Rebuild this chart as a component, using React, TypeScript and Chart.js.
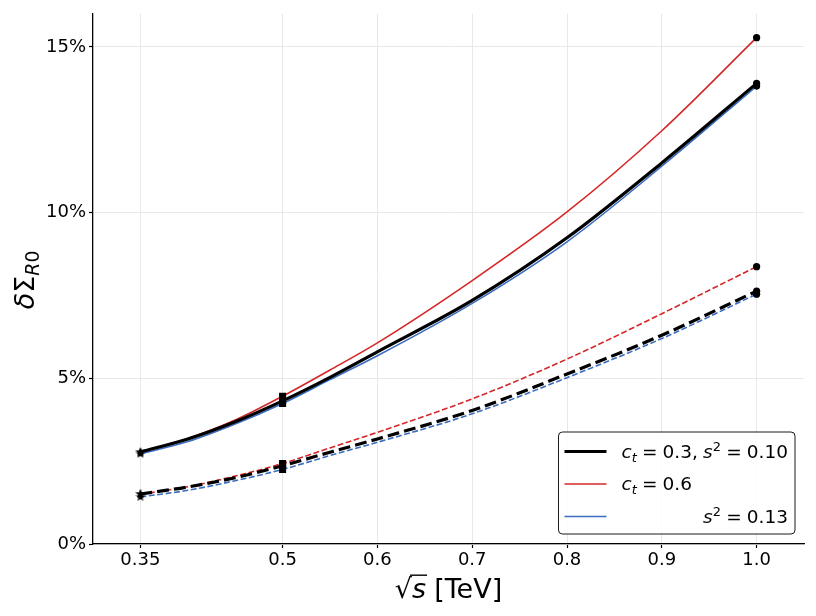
import React, { useEffect, useRef } from "react";
import { Chart, registerables } from "chart.js";

Chart.register(...registerables);

// ---- data ----
const energies = [0.35, 0.4, 0.45, 0.5, 0.55, 0.6, 0.7, 0.8, 0.9, 1.0];
const solidBlack = [0.0278, 0.0317, 0.0369, 0.0432, 0.0503, 0.058, 0.0735, 0.0924, 0.115, 0.139];
const solidRed = [0.0276, 0.0318, 0.0374, 0.0446, 0.0525, 0.0607, 0.0795, 0.1002, 0.1247, 0.1528];
const solidBlue = [0.0272, 0.0309, 0.0362, 0.0424, 0.0496, 0.0568, 0.0726, 0.0912, 0.114, 0.1382];
const dashedBlack = [0.0151, 0.0172, 0.02, 0.0236, 0.0277, 0.0317, 0.0403, 0.0513, 0.063, 0.0763];
const dashedRed = [0.015, 0.0173, 0.0205, 0.0243, 0.029, 0.0337, 0.0438, 0.0558, 0.0695, 0.0837];
const dashedBlue = [0.0142, 0.0162, 0.0191, 0.0225, 0.0267, 0.0307, 0.0393, 0.0502, 0.062, 0.0754];

const markerEnergies = [0.35, 0.5, 1.0];
const markerShapes = ["star", "rect", "circle"];

const xTickValues = [0.35, 0.5, 0.6, 0.7, 0.8, 0.9, 1.0];
const xTickLabels = ["0.35", "0.5", "0.6", "0.7", "0.8", "0.9", "1.0"];
const yTickValues = [0, 0.05, 0.1, 0.15];
const yTickLabels = ["0%", "5%", "10%", "15%"];

const legendLabels = ["c_t = 0.3, s^2 = 0.10", "c_t = 0.6", "s^2 = 0.13"];
const xAxisTitle = ["√", "s", "[TeV]"];
const yAxisTitle = "δΣ_{R0}";

const BLACK = "#000000";
const RED = "#d62728";
const BLUE = "#3a6cc0";

// ---- math-text helpers ----
type Seg = { t: string; it?: boolean; pos?: "sub" | "sup"; sp?: number };

function fontStr(size: number, it: boolean) {
  return `${it ? "italic " : ""}${size}px "DejaVu Sans"`;
}

function parseMath(src: string): Seg[] {
  const segs: Seg[] = [];
  const isIt = (ch: string) => /[a-zA-Zδ]/.test(ch);
  const push = (ch: string, pos?: "sub" | "sup") => {
    const it = isIt(ch);
    const last = segs[segs.length - 1];
    if (last && last.it === it && last.pos === pos && !last.sp) last.t += ch;
    else segs.push({ t: ch, it, pos });
  };
  let i = 0;
  while (i < src.length) {
    const ch = src[i];
    if (ch === "_" || ch === "^") {
      const pos = ch === "_" ? "sub" : "sup";
      i++;
      if (src[i] === "{") {
        i++;
        while (i < src.length && src[i] !== "}") {
          push(src[i], pos);
          i++;
        }
        i++;
      } else {
        push(src[i], pos);
        i++;
      }
    } else if (ch === " ") {
      const last = segs[segs.length - 1];
      if (last) last.sp = (last.sp || 0) + 0.28;
      i++;
    } else {
      push(ch);
      i++;
    }
  }
  return segs;
}

function mathWidth(ctx: CanvasRenderingContext2D, segs: Seg[], size: number) {
  let w = 0;
  for (const s of segs) {
    const sz = s.pos ? size * 0.7 : size;
    ctx.font = fontStr(sz, !!s.it);
    w += ctx.measureText(s.t).width + (s.sp || 0) * size;
  }
  return w;
}

function drawMath(ctx: CanvasRenderingContext2D, segs: Seg[], x: number, y: number, size: number) {
  let cx = x;
  for (const s of segs) {
    const sz = s.pos ? size * 0.7 : size;
    ctx.font = fontStr(sz, !!s.it);
    const dy = s.pos === "sub" ? size * 0.2 : s.pos === "sup" ? -size * 0.38 : 0;
    ctx.fillText(s.t, cx, y + dy);
    cx += ctx.measureText(s.t).width + (s.sp || 0) * size;
  }
  return cx;
}

function makeStar(size: number) {
  const c = document.createElement("canvas");
  c.width = size;
  c.height = size;
  const g = c.getContext("2d")!;
  const R = size / 2;
  const r = R * 0.4;
  g.beginPath();
  for (let k = 0; k < 10; k++) {
    const ang = -Math.PI / 2 + (k * Math.PI) / 5;
    const rad = k % 2 === 0 ? R : r;
    const px = R + rad * Math.cos(ang);
    const py = R + rad * Math.sin(ang);
    if (k === 0) g.moveTo(px, py);
    else g.lineTo(px, py);
  }
  g.closePath();
  g.fillStyle = "#000";
  g.fill();
  return c;
}

const mathPlugin = {
  id: "mathText",
  afterDraw(chart: any) {
    const ctx: CanvasRenderingContext2D = chart.ctx;
    const area = chart.chartArea;
    ctx.save();
    ctx.fillStyle = "#000";
    ctx.textAlign = "left";
    ctx.textBaseline = "alphabetic";

    // x axis title
    const xs = 27;
    ctx.font = fontStr(xs, false);
    const wRad = ctx.measureText(xAxisTitle[0]).width;
    ctx.font = fontStr(xs, true);
    const wS = ctx.measureText(xAxisTitle[1]).width;
    const gap = 0.3 * xs;
    ctx.font = fontStr(xs, false);
    const wRest = ctx.measureText(xAxisTitle[2]).width;
    const total = wRad + wS + gap + wRest;
    const x0 = (area.left + area.right) / 2 - total / 2;
    const by = area.bottom + 54;
    ctx.font = fontStr(xs, false);
    ctx.fillText(xAxisTitle[0], x0, by);
    ctx.font = fontStr(xs, true);
    ctx.fillText(xAxisTitle[1], x0 + wRad, by);
    ctx.font = fontStr(xs, false);
    ctx.fillText(xAxisTitle[2], x0 + wRad + wS + gap, by);
    ctx.strokeStyle = "#000";
    ctx.lineWidth = 1.4;
    ctx.beginPath();
    ctx.moveTo(x0 + wRad - 2, by - 0.845 * xs);
    ctx.lineTo(x0 + wRad + wS + 1, by - 0.845 * xs);
    ctx.stroke();

    // y axis title (rotated)
    const ys = 27;
    const ySegs = parseMath(yAxisTitle);
    const yw = mathWidth(ctx, ySegs, ys);
    ctx.save();
    ctx.translate(34, (area.top + area.bottom) / 2 + 1);
    ctx.rotate(-Math.PI / 2);
    drawMath(ctx, ySegs, -yw / 2, 0, ys);
    ctx.restore();

    // legend
    const ls = 18.5;
    const segsList = legendLabels.map(parseMath);
    const widths = segsList.map((s) => mathWidth(ctx, s, ls));
    const maxW = Math.max(...widths);
    const padL = 6, lineLen = 42, lineGap = 15, padR = 7;
    const boxW = padL + lineLen + lineGap + maxW + padR;
    const rowH = 32.5;
    const boxH = 102;
    const bx = area.right - 9 - boxW;
    const byTop = area.bottom - 10 - boxH;
    ctx.beginPath();
    const rr = 4;
    ctx.moveTo(bx + rr, byTop);
    ctx.lineTo(bx + boxW - rr, byTop);
    ctx.arcTo(bx + boxW, byTop, bx + boxW, byTop + rr, rr);
    ctx.lineTo(bx + boxW, byTop + boxH - rr);
    ctx.arcTo(bx + boxW, byTop + boxH, bx + boxW - rr, byTop + boxH, rr);
    ctx.lineTo(bx + rr, byTop + boxH);
    ctx.arcTo(bx, byTop + boxH, bx, byTop + boxH - rr, rr);
    ctx.lineTo(bx, byTop + rr);
    ctx.arcTo(bx, byTop, bx + rr, byTop, rr);
    ctx.closePath();
    ctx.fillStyle = "rgba(255,255,255,0.85)";
    ctx.fill();
    ctx.strokeStyle = "#1a1a1a";
    ctx.lineWidth = 1;
    ctx.stroke();

    const legendColors = [BLACK, RED, BLUE];
    const legendWidths = [3.2, 1.6, 1.6];
    const textX = bx + padL + lineLen + lineGap;
    for (let k = 0; k < legendLabels.length; k++) {
      const ry = byTop + 19.5 + k * rowH;
      ctx.strokeStyle = legendColors[k];
      ctx.lineWidth = legendWidths[k];
      ctx.beginPath();
      ctx.moveTo(bx + padL, ry);
      ctx.lineTo(bx + padL + lineLen, ry);
      ctx.stroke();
      ctx.fillStyle = "#000";
      const tx = k === 2 ? textX + maxW - widths[k] : textX;
      drawMath(ctx, segsList[k], tx, ry + 6.3, ls);
    }
    ctx.restore();
  },
};

export default function App() {
  const ref = useRef<HTMLCanvasElement | null>(null);

  useEffect(() => {
    if (!ref.current) return;
    const star = makeStar(10);
    const markerIndex = (x: number) => markerEnergies.findIndex((m) => Math.abs(m - x) < 1e-9);

    const mk = (label: string, data: number[], color: string, width: number, dashed: boolean) => ({
      label,
      data: energies.map((x, i) => ({ x, y: data[i] })),
      borderColor: color,
      backgroundColor: color,
      borderWidth: width,
      borderDash: dashed ? [3.7 * width, 1.6 * width] : [],
      borderCapStyle: "butt",
      fill: false,
      cubicInterpolationMode: "monotone",
      pointRadius: (c: any) => {
        const k = c.raw ? markerIndex(c.raw.x) : -1;
        if (k < 0) return 0;
        return markerShapes[k] === "rect" ? 5 : markerShapes[k] === "circle" ? 3.6 : 5;
      },
      pointStyle: (c: any) => {
        const k = c.raw ? markerIndex(c.raw.x) : -1;
        if (k < 0) return "circle";
        return markerShapes[k] === "star" ? star : markerShapes[k];
      },
      pointBackgroundColor: "#000",
      pointBorderColor: "#000",
      pointBorderWidth: 0,
      pointHoverRadius: 0,
    });

    const chart = new Chart(ref.current, {
      type: "line",
      data: {
        datasets: [
          mk(legendLabels[0], solidBlack, BLACK, 3.2, false),
          mk(legendLabels[1], solidRed, RED, 1.6, false),
          mk(legendLabels[2], solidBlue, BLUE, 1.6, false),
          mk(legendLabels[0] + " (dashed)", dashedBlack, BLACK, 3.2, true),
          mk(legendLabels[1] + " (dashed)", dashedRed, RED, 1.6, true),
          mk(legendLabels[2] + " (dashed)", dashedBlue, BLUE, 1.6, true),
        ] as any,
      },
      options: {
        animation: false,
        responsive: false,
        devicePixelRatio: 1,
        events: [],
        layout: { padding: { top: 12, right: 12, left: 0, bottom: 0 } },
        plugins: {
          legend: { display: false },
          tooltip: { enabled: false },
          title: { display: false },
        },
        scales: {
          x: {
            type: "linear",
            min: 0.3,
            max: 1.05,
            afterBuildTicks: (scale: any) => {
              scale.ticks = xTickValues.map((v) => ({ value: v }));
            },
            afterFit: (scale: any) => {
              scale.height = 72;
            },
            ticks: {
              autoSkip: false,
              maxRotation: 0,
              padding: 2,
              color: "#000",
              font: { family: "DejaVu Sans", size: 18 },
              callback: (_v: any, i: number) => xTickLabels[i],
            },
            grid: {
              color: "#e8e8e8",
              lineWidth: 1,
              tickColor: "#000",
              tickLength: 4,
              tickWidth: 1.2,
            },
            border: { display: true, color: "#000", width: 1.3 },
          },
          y: {
            type: "linear",
            min: 0,
            max: 0.16,
            afterBuildTicks: (scale: any) => {
              scale.ticks = yTickValues.map((v) => ({ value: v }));
            },
            afterFit: (scale: any) => {
              scale.width = 93;
            },
            ticks: {
              padding: 3,
              color: "#000",
              font: { family: "DejaVu Sans", size: 18 },
              callback: (_v: any, i: number) => yTickLabels[i],
            },
            grid: {
              color: "#e8e8e8",
              lineWidth: 1,
              tickColor: "#000",
              tickLength: 4,
              tickWidth: 1.2,
            },
            border: { display: true, color: "#000", width: 1.3 },
          },
        },
      } as any,
      plugins: [mathPlugin],
    });
    return () => chart.destroy();
  }, []);

  return (
    <div style={{ position: "absolute", left: 0, top: 0, width: 816, height: 616, background: "#fff" }}>
      <canvas ref={ref} width={816} height={616} style={{ width: 816, height: 616, display: "block" }} />
    </div>
  );
}
